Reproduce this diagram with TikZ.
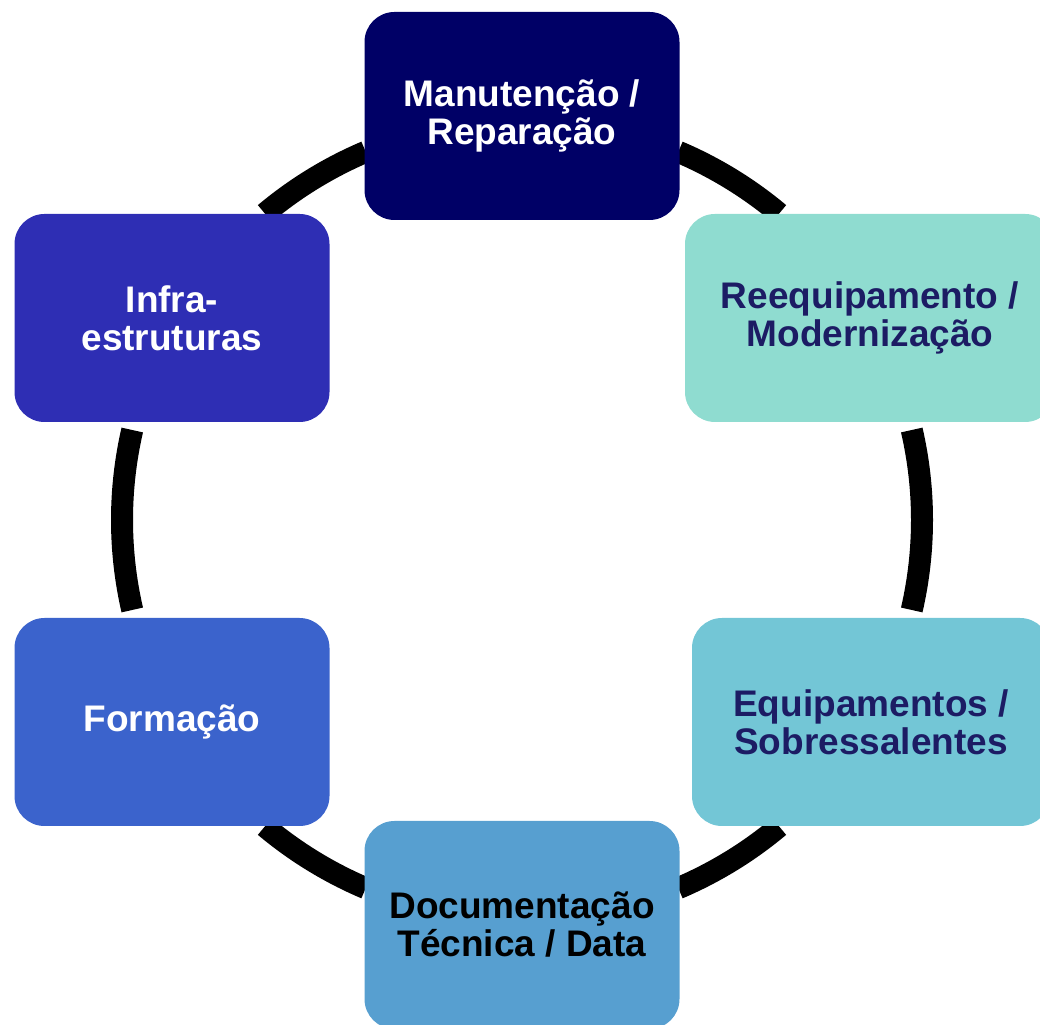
\documentclass[tikz,border=0pt]{standalone}
\usepackage{fontspec}
\setmainfont{Liberation Sans}
\definecolor{boxnavy}{RGB}{0,0,102}
\definecolor{boxmint}{RGB}{143,220,208}
\definecolor{boxcyan}{RGB}{115,198,214}
\definecolor{boxsky}{RGB}{87,159,208}
\definecolor{boxroyal}{RGB}{59,99,204}
\definecolor{boxindigo}{RGB}{46,46,180}
\definecolor{textnavy}{RGB}{28,28,100}
\begin{document}
\begin{tikzpicture}[x=1pt,y=1pt,
    stage/.style={rounded corners=30pt, minimum width=315pt, minimum height=208pt,
      inner sep=0pt, align=center, font=\bfseries\fontsize{37}{38}\selectfont},
    ring/.style={line width=22pt, black}]
    \clip (0,0) rectangle (1040,1024);
    \coordinate (hub) at (522,504);
    % ring pieces
    \foreach \a/\b in {50/67,113/130,167/193,230/247,293/310,347/373}
      \draw[ring] ([shift={(hub)}]\a:400) arc[start angle=\a, end angle=\b, radius=400];
    % stages
    \node[stage, fill=boxnavy, text=white] (maint) at (522,908) {Manutenção /\\Reparação};
    \node[stage, fill=boxmint, text=textnavy, minimum width=370pt] (reeq) at (870,706) {Reequipamento /\\Modernização};
    \node[stage, fill=boxcyan, text=textnavy, minimum width=358pt] (equip) at (871,302) {Equipamentos /\\Sobressalentes};
    \node[stage, fill=boxsky, text=black] (docs) at (522,99) {Documentação\\Técnica / Data};
    \node[stage, fill=boxroyal, text=white] (form) at (172,302) {Formação};
    \node[stage, fill=boxindigo, text=white] (infra) at (172,706) {Infra-\\estruturas};
\end{tikzpicture}
\end{document}
